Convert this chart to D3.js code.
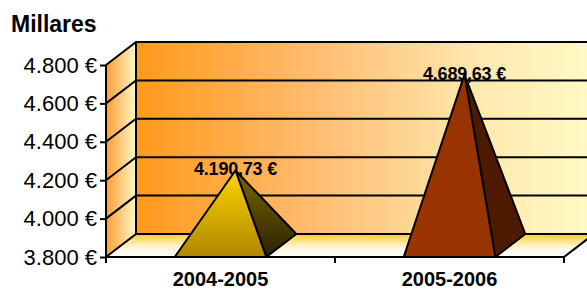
<!DOCTYPE html>
<html>
<head>
<meta charset="utf-8">
<script src="https://cdn.jsdelivr.net/npm/d3@7"></script>
<style>
  body { margin: 0; background: #fff; }
  svg { display: block; font-family: Arial, "Liberation Sans", sans-serif; }
</style>
</head>
<body>
<svg id="chart" width="587" height="289"></svg>
<script>
// datos
const categorias = ["2004-2005", "2005-2006"];
const valores = [4190.73, 4689.63];
const yTicks = [3800, 4000, 4200, 4400, 4600, 4800];
const titulo = "Millares";

const frontColor = ["url(#pyr1Front)", "#993300"];
const sideColor = ["url(#pyr1Side)", "#4d1a00"];

const es = d3.formatLocale({ decimal: ",", thousands: ".", grouping: [3], currency: ["", " €"] });
const fmtTick = es.format("$,.0f");
const fmtVal = es.format("$,.2f");

const svg = d3.select("#chart");

// profundidad 3D
const dx = 30, dy = -23;
const pLeft = 106, pRight = 564, pBottom = 257, pTop = 65;

const y = d3.scaleLinear().domain([3800, 4800]).range([pBottom, pTop]);
const x = d3.scaleBand().domain(categorias).range([pLeft, pRight]).paddingInner(0.6).paddingOuter(0.3);
const xCat = d3.scaleBand().domain(categorias).range([pLeft, pRight]);

// gradientes
const defs = svg.append("defs");
function grad(id, x2, y2, stops) {
  const g = defs.append("linearGradient").attr("id", id)
    .attr("x1", 0).attr("y1", 0).attr("x2", x2).attr("y2", y2);
  stops.forEach(s => g.append("stop").attr("offset", s[0]).attr("stop-color", s[1]));
}
grad("backWall", 1, 0, [[0, "#ff9a1a"], [0.35, "#ffbb6e"], [0.7, "#ffeab0"], [1, "#ffffcc"]]);
grad("sideWall", 1, 0, [[0, "#ff9d33"], [1, "#fff8c8"]]);
grad("floor", 0, 1, [[0, "#ffcc22"], [0.55, "#fff4d8"], [1, "#ffffff"]]);
grad("pyr1Front", 0, 1, [[0, "#ffd500"], [1, "#ad8700"]]);
grad("pyr1Side", 0, 1, [[0, "#7d6700"], [1, "#2a2100"]]);

const line = d3.line();
const stroke = "#000";

// pared del fondo
svg.append("path")
  .attr("d", line([[pLeft + dx, y(4800) + dy], [pRight + dx + 40, y(4800) + dy], [pRight + dx + 40, pBottom + dy], [pLeft + dx, pBottom + dy]]) + "Z")
  .attr("fill", "url(#backWall)");

// pared lateral
svg.append("path")
  .attr("d", line([[pLeft, y(4800)], [pLeft + dx, y(4800) + dy], [pLeft + dx, pBottom + dy], [pLeft, pBottom]]) + "Z")
  .attr("fill", "url(#sideWall)");

// suelo
svg.append("path")
  .attr("d", line([[pLeft, pBottom], [pLeft + dx, pBottom + dy], [pRight + dx, pBottom + dy], [pRight, pBottom]]) + "Z")
  .attr("fill", "url(#floor)");

// lineas de division
yTicks.forEach(t => {
  svg.append("path")
    .attr("d", line([[pLeft, y(t)], [pLeft + dx, y(t) + dy], [pRight + dx + 40, y(t) + dy]]))
    .attr("fill", "none").attr("stroke", stroke).attr("stroke-width", 2);
});
svg.append("path")
  .attr("d", line([[pLeft, y(4800)], [pLeft, pBottom]]))
  .attr("stroke", stroke).attr("stroke-width", 2);
svg.append("path")
  .attr("d", line([[pLeft + dx, y(4800) + dy], [pLeft + dx, pBottom + dy]]))
  .attr("stroke", stroke).attr("stroke-width", 2);
svg.append("path")
  .attr("d", line([[pLeft, pBottom], [pRight, pBottom], [pRight + dx, pBottom + dy]]))
  .attr("fill", "none").attr("stroke", stroke).attr("stroke-width", 2);

// eje Y
const yAxis = svg.append("g")
  .attr("transform", `translate(${pLeft},0)`)
  .call(d3.axisLeft(y).tickValues(yTicks).tickFormat(fmtTick).tickSize(6).tickPadding(3));
yAxis.select(".domain").remove();
yAxis.selectAll(".tick line").attr("stroke", stroke).attr("stroke-width", 2);
yAxis.selectAll(".tick text").attr("font-size", 22).attr("fill", "#000")
  .attr("font-family", "Arial, 'Liberation Sans', sans-serif");

// marcas eje X
const xTickPos = categorias.map(c => xCat(c)).concat([pRight]);
svg.selectAll(".xtick").data(xTickPos).enter().append("line")
  .attr("x1", d => d).attr("x2", d => d)
  .attr("y1", pBottom).attr("y2", pBottom + 6)
  .attr("stroke", stroke).attr("stroke-width", 2);

svg.selectAll(".xlabel").data(categorias).enter().append("text")
  .attr("x", d => x(d) + x.bandwidth() / 2)
  .attr("y", 286)
  .attr("text-anchor", "middle")
  .attr("font-size", 20).attr("font-weight", "bold")
  .text(d => d);

// titulo
svg.append("text")
  .attr("x", 11).attr("y", 32)
  .attr("font-size", 23).attr("font-weight", "bold")
  .text(titulo);

// piramides
categorias.forEach((c, i) => {
  const x0 = x(c), x1 = x(c) + x.bandwidth();
  const apex = [x0 + x.bandwidth() / 2 + dx / 2, y(valores[i]) + dy / 2];

  svg.append("text")
    .attr("x", apex[0]).attr("y", apex[1] + 5)
    .attr("text-anchor", "middle")
    .attr("font-size", 18).attr("font-weight", "bold")
    .attr("letter-spacing", -0.2)
    .text(fmtVal(valores[i]));

  svg.append("path")
    .attr("d", line([[x1, pBottom], [x1 + dx, pBottom + dy], apex]) + "Z")
    .attr("fill", sideColor[i]).attr("stroke", stroke).attr("stroke-width", 2)
    .attr("stroke-linejoin", "round");
  svg.append("path")
    .attr("d", line([[x0, pBottom], [x1, pBottom], apex]) + "Z")
    .attr("fill", frontColor[i]).attr("stroke", stroke).attr("stroke-width", 2)
    .attr("stroke-linejoin", "round");
});
</script>
</body>
</html>
